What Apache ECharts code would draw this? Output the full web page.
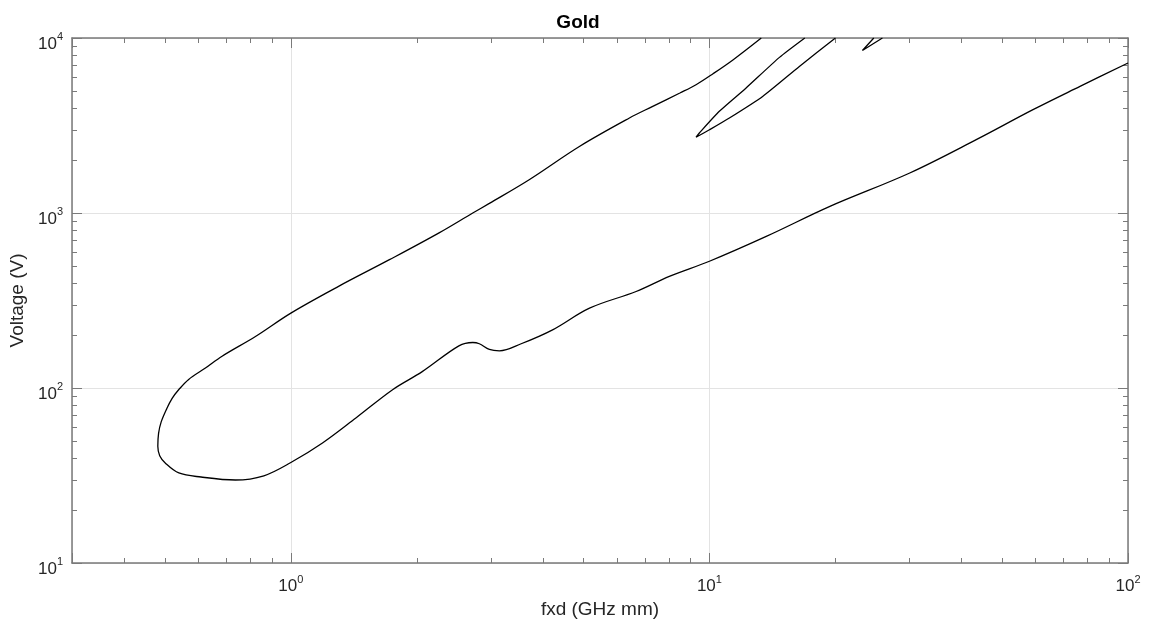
<!DOCTYPE html>
<html>
<head>
<meta charset="utf-8">
<title>Gold</title>
<script src="https://cdn.jsdelivr.net/npm/echarts@6/dist/echarts.min.js"></script>
<style>
html, body { margin: 0; padding: 0; background: #fff; }
#chart { width: 1156px; height: 626px; }
</style>
</head>
<body>
<div id="chart"></div>
<script>
// values: fxd (GHz mm) against voltage (V)
const mainFxd = [13.3, 11.4, 10.2, 9.29, 8.5, 7.3, 6.44, 4.89, 3.71, 2.98, 2.72, 2.26, 1.72, 1.30, 1.0, 0.823, 0.685, 0.625, 0.570, 0.540, 0.520, 0.505, 0.490, 0.483, 0.481, 0.486, 0.501, 0.540, 0.610, 0.737, 0.862, 1.0, 1.19, 1.43, 1.75, 2.06, 2.52, 2.72, 2.82, 2.98, 3.15, 3.55, 4.22, 5.17, 6.68, 8.02, 10.0, 13.67, 19.4, 30.1, 43.4, 59.3, 76.8, 100];
const mainVolt = [10000, 7520, 6250, 5410, 4850, 4055, 3490, 2400, 1550, 1135, 1000, 770, 541, 381, 268, 197, 152, 130, 112, 98, 87, 76, 64, 55, 46.4, 41, 37.3, 32.7, 31, 29.8, 31.5, 37.5, 48.5, 67.4, 97.8, 124, 174, 182, 179, 166, 163, 179, 215, 286, 356, 434, 530, 735, 1091, 1693, 2624, 3893, 5290, 7200];

const loop2Fxd = [16.9, 14.7, 12.2, 10.56, 9.46, 9.29, 9.5, 10.0, 11.16, 13.4, 16.4, 20.0];
const loop2Volt = [10000, 7750, 5150, 3810, 2864, 2716, 2790, 2990, 3491, 4637, 6880, 10000];

const loop3Fxd = [24.7, 23.2, 25.9];
const loop3Volt = [10000, 8490, 10000];

const xMinorTicks = [0.4, 0.5, 0.6, 0.7, 0.8, 0.9, 2, 3, 4, 5, 6, 7, 8, 9, 20, 30, 40, 50, 60, 70, 80, 90];
const yMinorTicks = [20, 30, 40, 50, 60, 70, 80, 90, 200, 300, 400, 500, 600, 700, 800, 900, 2000, 3000, 4000, 5000, 6000, 7000, 8000, 9000];

const FONT = 'Liberation Sans, Arial, Helvetica, sans-serif';
const AXIS_COLOR = '#7a7a7a';
const TEXT_COLOR = '#262626';

function pairs(xs, ys) {
    return xs.map((x, i) => [x, ys[i]]);
}

function powLabel(value) {
    const e = Math.log10(value);
    const r = Math.round(e);
    if (Math.abs(e - r) > 1e-6) return '';
    return '{b|10}{s|' + r + '}';
}

const richPow = {
    b: { fontSize: 17, lineHeight: 21, verticalAlign: 'bottom', color: TEXT_COLOR, fontFamily: FONT },
    s: { fontSize: 11, lineHeight: 21, verticalAlign: 'top', color: TEXT_COLOR, fontFamily: FONT }
};

const lineAxis = { show: true, lineStyle: { color: AXIS_COLOR, width: 1.5 } };
const majorTick = { show: true, inside: true, length: 10, lineStyle: { color: AXIS_COLOR, width: 1 } };
const gridLine = { show: true, lineStyle: { color: '#e3e3e3', width: 1 } };

function curve(name, data, smooth) {
    return {
        name: name,
        type: 'line',
        data: data,
        xAxisIndex: 0,
        yAxisIndex: 0,
        showSymbol: false,
        symbol: 'none',
        smooth: smooth,
        clip: true,
        lineStyle: { color: '#000', width: 1.3 },
        emphasis: { disabled: true }
    };
}

let chart = echarts.init(document.getElementById('chart'));

let option = {
    animation: false,
    backgroundColor: '#fff',
    title: {
        text: 'Gold',
        left: 'center',
        top: 8,
        textStyle: { fontSize: 19, fontWeight: 'bold', color: '#000', fontFamily: FONT }
    },
    grid: { left: 72, right: 28, top: 38, bottom: 63, containLabel: false },
    xAxis: [
        {
            type: 'log', logBase: 10, min: 0.3, max: 100, position: 'bottom',
            name: 'fxd (GHz mm)', nameLocation: 'middle', nameGap: 37,
            nameTextStyle: { fontSize: 19, color: TEXT_COLOR, fontFamily: FONT },
            axisLine: lineAxis, axisTick: majorTick, splitLine: gridLine,
            axisLabel: { formatter: powLabel, rich: richPow, margin: 11, showMaxLabel: true, hideOverlap: false }
        },
        {
            type: 'log', logBase: 10, min: 0.3, max: 100, position: 'top',
            axisLine: lineAxis, axisTick: majorTick, splitLine: { show: false },
            axisLabel: { show: false }
        }
    ],
    yAxis: [
        {
            type: 'log', logBase: 10, min: 10, max: 10000, position: 'left',
            name: 'Voltage (V)', nameLocation: 'middle', nameGap: 36, nameRotate: 90,
            nameTextStyle: { fontSize: 19, color: TEXT_COLOR, fontFamily: FONT },
            axisLine: lineAxis, axisTick: majorTick, splitLine: gridLine,
            axisLabel: {
                formatter: powLabel, rich: richPow, margin: 9, padding: [8, 0, 0, 0],
                showMaxLabel: true, showMinLabel: true, hideOverlap: false
            }
        },
        {
            type: 'log', logBase: 10, min: 10, max: 10000, position: 'right',
            axisLine: lineAxis, axisTick: majorTick, splitLine: { show: false },
            axisLabel: { show: false }
        }
    ],
    series: [
        curve('main', pairs(mainFxd, mainVolt), 0.35),
        curve('loop2', pairs(loop2Fxd, loop2Volt), 0.2),
        curve('loop3', pairs(loop3Fxd, loop3Volt), 0)
    ]
};

chart.setOption(option);

// minor ticks at 2..9 of each decade, on all four sides (like a boxed log plot)
function minorTicks() {
    const left = chart.convertToPixel({ xAxisIndex: 0 }, 0.3);
    const right = chart.convertToPixel({ xAxisIndex: 0 }, 100);
    const top = chart.convertToPixel({ yAxisIndex: 0 }, 10000);
    const bottom = chart.convertToPixel({ yAxisIndex: 0 }, 10);
    const len = 5;
    const style = { stroke: AXIS_COLOR, lineWidth: 1 };
    let els = [];
    xMinorTicks.forEach(v => {
        const x = Math.round(chart.convertToPixel({ xAxisIndex: 0 }, v)) + 0.5;
        els.push({ type: 'line', shape: { x1: x, y1: bottom, x2: x, y2: bottom - len }, style: style, silent: true });
        els.push({ type: 'line', shape: { x1: x, y1: top, x2: x, y2: top + len }, style: style, silent: true });
    });
    yMinorTicks.forEach(v => {
        const y = Math.round(chart.convertToPixel({ yAxisIndex: 0 }, v)) + 0.5;
        els.push({ type: 'line', shape: { x1: left, y1: y, x2: left + len, y2: y }, style: style, silent: true });
        els.push({ type: 'line', shape: { x1: right, y1: y, x2: right - len, y2: y }, style: style, silent: true });
    });
    chart.setOption({ graphic: els });
}

minorTicks();
</script>
</body>
</html>
